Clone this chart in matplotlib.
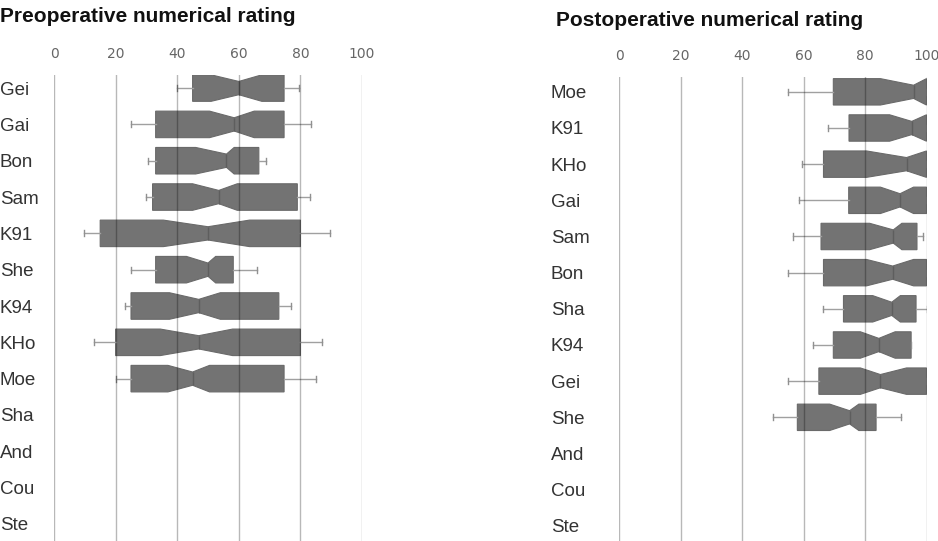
import matplotlib.pyplot as plt

plt.rcParams['font.family'] = ['Liberation Sans', 'DejaVu Sans']

# preoperative numerical rating, one row per study (None = no data)
pre_labels = ['Gei', 'Gai', 'Bon', 'Sam', 'K91', 'She', 'K94', 'KHo', 'Moe', 'Sha', 'And', 'Cou', 'Ste']
pre_whislo = [40, 25, 30.5, 30, 9.7, 25, 23, 13, 20, None, None, None, None]
pre_q1 = [45, 33, 33, 32, 15, 33, 25, 20, 25, None, None, None, None]
pre_cilo = [51, 50.5, 46, 45, 35.5, 43, 37.5, 34.5, 37, None, None, None, None]
pre_med = [60, 58.5, 56, 53.5, 50, 50, 47, 47, 45, None, None, None, None]
pre_cihi = [67.5, 65, 58.5, 59.5, 63.5, 52.5, 54, 58, 50.5, None, None, None, None]
pre_q3 = [74.7, 74.7, 66.5, 79, 80, 58.2, 73, 80, 74.7, None, None, None, None]
pre_whishi = [79.6, 83.4, 68.7, 83, 89.5, 66, 76.8, 87, 85, None, None, None, None]

# postoperative numerical rating
post_labels = ['Moe', 'K91', 'KHo', 'Gai', 'Sam', 'Bon', 'Sha', 'K94', 'Gei', 'She', 'And', 'Cou', 'Ste']
post_whislo = [55, 68, 59.5, 58.5, 56.5, 55, 66.5, 63, 55, 50, None, None, None]
post_q1 = [69.7, 74.8, 66.5, 74.7, 65.7, 66.5, 73, 69.7, 65, 58, None, None, None]
post_cilo = [85, 88, 80.5, 85, 81.5, 80.5, 82.5, 78.5, 78.5, 68.5, None, None, None]
post_med = [95.8, 95.2, 93.5, 91.4, 89.2, 89, 88.7, 84.5, 85, 75, None, None, None]
post_cihi = [100, 100, 100, 95.8, 92, 95.8, 91.5, 89.8, 93.5, 78, None, None, None]
post_q3 = [100, 100, 100, 100, 96.9, 100, 96.6, 95, 100, 83.6, None, None, None]
post_whishi = [100, 100, 100, 100, 98.8, 100, 100, 95, 100, 91.7, None, None, None]

ticks = [0, 20, 40, 60, 80, 100]

BOX = '#737373'


def panel(ax, title, title_xy, labels, whislo, q1, cilo, med, cihi, q3, whishi,
          label_pad, ylim):
    stats, pos = [], []
    for i in range(len(labels)):
        if med[i] is None:
            continue
        stats.append(dict(whislo=whislo[i], q1=q1[i], cilo=cilo[i], med=med[i],
                          cihi=cihi[i], q3=q3[i], whishi=whishi[i], fliers=[]))
        pos.append(i)
    ax.bxp(stats, positions=pos, widths=0.73, orientation='horizontal',
           shownotches=True, patch_artist=True, showfliers=False,
           capwidths=0.17,
           boxprops=dict(facecolor=BOX, edgecolor='#6a6a6a', linewidth=0.8),
           medianprops=dict(color='#5e5e5e', linewidth=1),
           whiskerprops=dict(color='#a0a0a0', linewidth=1),
           capprops=dict(color='#909090', linewidth=1))

    ax.set_xlim(0, 100)
    ax.set_ylim(*ylim)
    ax.set_yticks(range(len(labels)))
    ax.set_yticklabels(labels, ha='left', fontsize=13.5, color='#333333')
    ax.tick_params(axis='y', length=0, pad=label_pad)
    ax.xaxis.tick_top()
    ax.set_xticks(ticks)
    ax.set_xticklabels([str(t) for t in ticks], fontsize=10, color='#666666',
                       family='DejaVu Sans')
    ax.tick_params(axis='x', length=0, pad=10)
    ax.grid(axis='x', color='#000000', alpha=0.28, linewidth=1)
    ax.grid(axis='y', visible=False)
    ax.set_axisbelow(False)
    for s in ax.spines.values():
        s.set_visible(False)
    ax.figure.text(title_xy[0], title_xy[1], title, fontsize=15, fontweight='bold',
                   color='#111111', va='center', ha='left')


fig = plt.figure(figsize=(9.38, 5.41), dpi=100)
W, H = 938, 541

ax1 = fig.add_axes([54 / W, 0, 308 / W, 466 / H])
panel(ax1, 'Preoperative numerical rating', (0, 1 - 17 / H),
      pre_labels, pre_whislo, pre_q1, pre_cilo, pre_med, pre_cihi, pre_q3, pre_whishi,
      label_pad=39, ylim=(12.47, -0.36))

ax2 = fig.add_axes([619 / W, 0, 307.5 / W, 464 / H])
panel(ax2, 'Postoperative numerical rating', (556 / W, 1 - 20 / H),
      post_labels, post_whislo, post_q1, post_cilo, post_med, post_cihi, post_q3, post_whishi,
      label_pad=49, ylim=(12.42, -0.41))

fig.savefig('out.png', dpi=100)
